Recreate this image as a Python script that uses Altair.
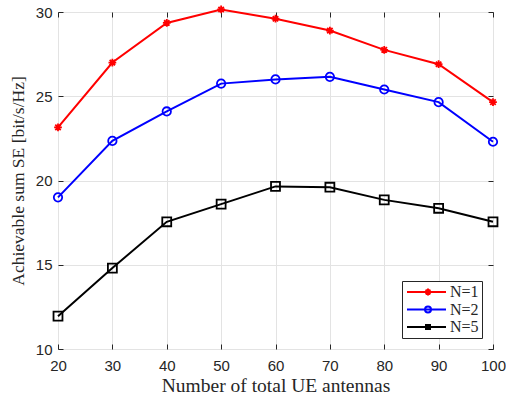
import altair as alt
import pandas as pd

# Number of total UE antennas
antennas = [20, 30, 40, 50, 60, 70, 80, 90, 100]

# Achievable sum SE [bit/s/Hz] per number of antennas per UE
se_n1 = [23.15, 27.0, 29.35, 30.15, 29.6, 28.9, 27.75, 26.9, 24.65]
se_n2 = [19.0, 22.35, 24.1, 25.75, 26.0, 26.15, 25.4, 24.65, 22.3]
se_n5 = [11.95, 14.8, 17.55, 18.6, 19.65, 19.6, 18.85, 18.35, 17.55]

series_names = ["N=1", "N=2", "N=5"]
series_colors = ["#ff0000", "#0000ff", "#000000"]

x_ticks = [20, 30, 40, 50, 60, 70, 80, 90, 100]
y_ticks = [10, 15, 20, 25, 30]

rows = []
for name, vals in zip(series_names, [se_n1, se_n2, se_n5]):
    for a, v in zip(antennas, vals):
        rows.append({"antennas": a, "se": v, "series": name})
df = pd.DataFrame(rows)

# marker glyphs (asterisk, circle, square) as unit-box SVG paths
marker_paths = [
    "M-1,0L1,0M0,-1L0,1M-0.7,-0.7L0.7,0.7M-0.7,0.7L0.7,-0.7",
    "circle",
    "square",
]
# legend glyphs: a line segment with the marker drawn on it
legend_paths = [
    "M-1.5,0H8.25M2.9,0H4.6M3.75,-0.85V0.85M3.15,-0.6L4.35,0.6M3.15,0.6L4.35,-0.6",
    "M-1.5,0H8.25M3,0A0.75,0.75 0 1,0 4.5,0A0.75,0.75 0 1,0 3,0",
    "M-1.5,0H8.25M3.25,-0.5H4.25V0.5H3.25Z",
]

serif = "Liberation Serif"
sans = "Liberation Sans"
axis_gray = "#262626"

x_scale = alt.Scale(domain=[20, 100], nice=False, zero=False)
y_scale = alt.Scale(domain=[10, 30], nice=False, zero=False)


def color_scale():
    return alt.Scale(domain=series_names, range=series_colors)


base = alt.Chart(df)

# lines carry the bottom/left axes (labels, titles, grid, inward ticks)
lines = base.mark_line(strokeWidth=2).encode(
    x=alt.X("antennas:Q", scale=x_scale, axis=alt.Axis(
        orient="bottom", offset=-5, tickSize=5, domain=False, grid=True,
        values=x_ticks, labelPadding=9, labelFlush=False,
        title="Number of total UE antennas", titlePadding=3,
        titleFontSize=19.5)),
    y=alt.Y("se:Q", scale=y_scale, axis=alt.Axis(
        orient="left", offset=-5, tickSize=5, domain=False, grid=True,
        values=y_ticks, labelPadding=6, labelFlush=False,
        title="Achievable sum SE [bit/s/Hz]", titlePadding=8,
        titleFontSize=17.5)),
    color=alt.Color("series:N", scale=color_scale(), legend=None),
)

# markers carry the top/right axes (inward ticks only)
points = base.mark_point(filled=False, strokeWidth=1.8, opacity=1).encode(
    x=alt.X("antennas:Q", scale=x_scale, axis=alt.Axis(
        orient="top", offset=-5, tickSize=5, domain=False, grid=False,
        values=x_ticks, labels=False, title=None)),
    y=alt.Y("se:Q", scale=y_scale, axis=alt.Axis(
        orient="right", offset=-5, tickSize=5, domain=False, grid=False,
        values=y_ticks, labels=False, title=None)),
    color=alt.Color("series:N", scale=color_scale(), legend=None),
    shape=alt.Shape("series:N", scale=alt.Scale(domain=series_names, range=marker_paths), legend=None),
    size=alt.Size("series:N", scale=alt.Scale(domain=series_names, range=[60, 80, 20]), legend=None),
)

# invisible layer that only provides the legend entries
legend_layer = base.mark_point(filled=False, opacity=0).encode(
    x=alt.X("antennas:Q", scale=x_scale, axis=None),
    y=alt.Y("se:Q", scale=y_scale, axis=None),
    color=alt.Color("series:N", scale=color_scale(), legend=alt.Legend(title=None)),
    shape=alt.Shape("series:N", scale=alt.Scale(domain=series_names, range=legend_paths),
                    legend=alt.Legend(title=None)),
)

chart = alt.layer(lines, points, legend_layer).resolve_scale(
    x="independent", y="independent", shape="independent", color="independent"
).properties(
    width=435, height=337,
    padding={"left": 58, "top": 12, "right": 13, "bottom": 47},
    autosize="none",
    background="white",
).configure_view(
    stroke=axis_gray, strokeWidth=1,
).configure_axis(
    gridColor="#e3e3e3", gridWidth=1, gridOpacity=1,
    tickColor=axis_gray, tickWidth=1,
    labelFont=sans, labelFontSize=15, labelColor=axis_gray,
    titleFont=serif, titleFontWeight="normal", titleColor=axis_gray,
).configure_legend(
    orient="bottom-right", offset=11,
    strokeColor=axis_gray, fillColor="white", padding=3,
    labelFont=serif, labelFontSize=16, labelColor=axis_gray,
    symbolSize=64, symbolStrokeWidth=2, symbolOpacity=1,
    symbolOffset=0, labelOffset=29, rowPadding=1.5, columnPadding=0,
)

chart.save("out.html", embed_options={"renderer": "svg", "actions": False})
